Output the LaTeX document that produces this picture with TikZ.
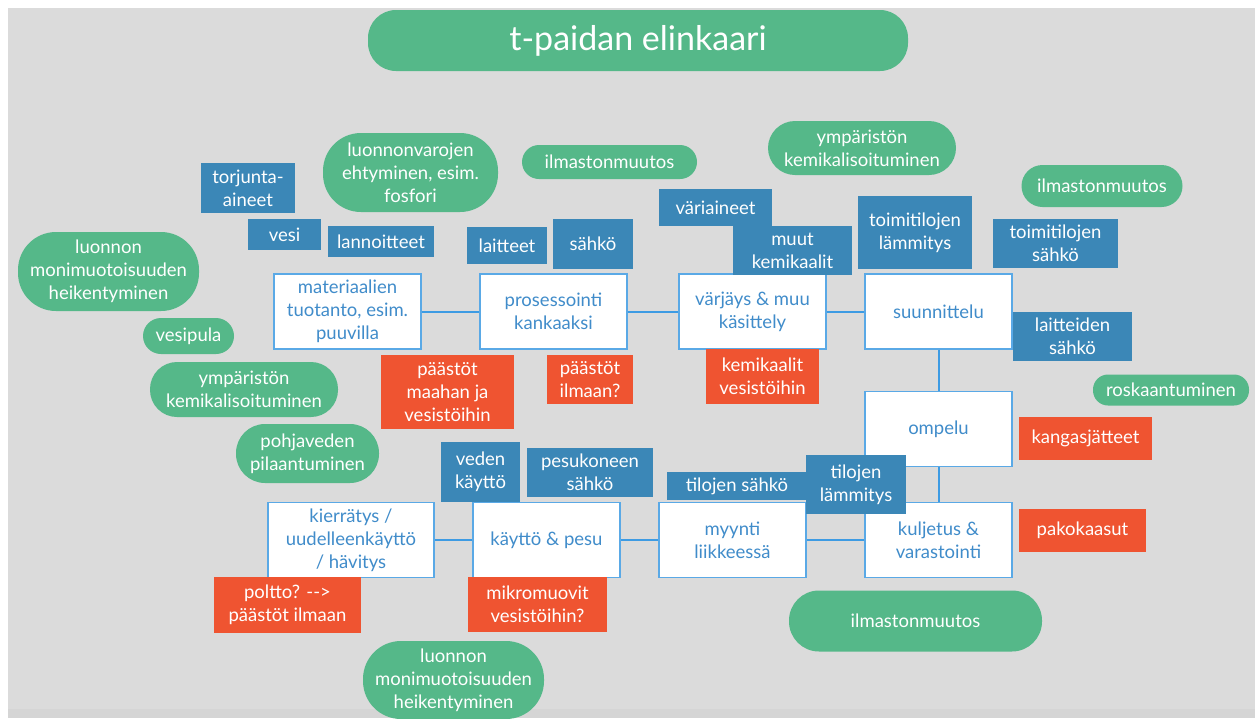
\documentclass[tikz,border=0pt]{standalone}
\usepackage{fontspec}
\setmainfont{Lato}
\definecolor{bg}{HTML}{DBDBDB}
\definecolor{bgstrip}{HTML}{D5D5D5}
\definecolor{grn}{HTML}{55B889}
\definecolor{blu}{HTML}{3B87B7}
\definecolor{redc}{HTML}{EF5431}
\definecolor{procb}{HTML}{5AA9E6}
\definecolor{proct}{HTML}{408CCA}
\definecolor{conn}{HTML}{3D9BE3}
\begin{document}
\begin{tikzpicture}[x=1pt,y=-1pt,
  base/.style={inner sep=0pt, align=center, font=\fontsize{18.5}{23}\selectfont, text=white},
  pill/.style={base, fill=grn},
  bluebox/.style={base, fill=blu},
  redbox/.style={base, fill=redc},
  proc/.style={base, fill=white, draw=procb, line width=1.4pt, text=proct, minimum width=147, minimum height=75},
  link/.style={draw=conn, line width=2pt}]
\useasboundingbox (0,0) rectangle (1255,718);
\fill[white] (0,0) rectangle (1255,718);
\fill[bg] (8,8) rectangle (1255,718);
\fill[bgstrip] (8,709) rectangle (1255,718);

% title
\node[pill, minimum width=540, minimum height=61, rounded corners=28, font=\fontsize{34}{38}\selectfont] (title) at (638,40.5) {t-paidan elinkaari};

% green pills
\node[pill, minimum width=175, minimum height=79, rounded corners=38] (g1) at (410.5,172.5) {luonnonvarojen\\ehtyminen, esim.\\fosfori};
\node[pill, minimum width=175, minimum height=34, rounded corners=17] (g2) at (609.5,162) {ilmastonmuutos};
\node[pill, minimum width=188, minimum height=54, rounded corners=27] (g3) at (862,148) {ympäristön\\kemikalisoituminen};
\node[pill, minimum width=161, minimum height=42, rounded corners=21] (g4) at (1102,186) {ilmastonmuutos};
\node[pill, minimum width=181, minimum height=79, rounded corners=38] (g5) at (108.5,271.5) {luonnon\\monimuotoisuuden\\heikentyminen};
\node[pill, minimum width=91, minimum height=36, rounded corners=18] (g6) at (188.5,336) {vesipula};
\node[pill, minimum width=188, minimum height=55, rounded corners=27] (g7) at (244,389.5) {ympäristön\\kemikalisoituminen};
\node[pill, minimum width=143, minimum height=59, rounded corners=29] (g8) at (307.5,453.5) {pohjaveden\\pilaantuminen};
\node[pill, minimum width=156, minimum height=31, rounded corners=15] (g9) at (1171,390) {roskaantuminen};
\node[pill, minimum width=253, minimum height=61, rounded corners=30] (g10) at (915.5,621) {ilmastonmuutos};
\node[pill, minimum width=181, minimum height=78, rounded corners=38] (g11) at (453.5,680) {luonnon\\monimuotoisuuden\\heikentyminen};

% process boxes
\node[proc] (p1) at (347.5,311.5) {materiaalien\\tuotanto, esim.\\puuvilla};
\node[proc] (p2) at (553.5,311.5) {prosessointi\\kankaaksi};
\node[proc] (p3) at (752.5,311.5) {värjäys \& muu\\käsittely};
\node[proc] (p4) at (938.5,311.5) {suunnittelu};
\node[proc] (p5) at (938.5,429) {ompelu};
\node[proc] (p6) at (938.5,540) {kuljetus \&\\varastointi};
\node[proc] (p7) at (732.5,540) {myynti\\liikkeessä};
\node[proc] (p8) at (546.5,540) {käyttö \& pesu};
\node[proc, minimum width=166] (p9) at (351,540) {kierrätys /\\uudelleenkäyttö\\/ hävitys};

% connectors
\draw[link] (p1.east) -- (p2.west);
\draw[link] (p2.east) -- (p3.west);
\draw[link] (p3.east) -- (p4.west);
\draw[link] (p4.south) -- (p5.north);
\draw[link] (p5.south) -- (p6.north);
\draw[link] (p6.west) -- (p7.east);
\draw[link] (p7.west) -- (p8.east);
\draw[link] (p8.west) -- (p9.east);

% blue boxes
\node[bluebox, minimum width=94, minimum height=50] (b1) at (248,188) {torjunta-\\aineet};
\node[bluebox, minimum width=73, minimum height=31] (b2) at (284.5,234.5) {vesi};
\node[bluebox, minimum width=106, minimum height=31] (b3) at (381,241.5) {lannoitteet};
\node[bluebox, minimum width=80, minimum height=37] (b4) at (507,245.5) {laitteet};
\node[bluebox, minimum width=80, minimum height=50] (b5) at (593,244) {sähkö};
\node[bluebox, minimum width=113, minimum height=37] (b6) at (715.5,207.5) {väriaineet};
\node[bluebox, minimum width=119, minimum height=49] (b7) at (792.5,250.5) {muut\\kemikaalit};
\node[bluebox, minimum width=114, minimum height=73] (b8) at (915,232.5) {toimitilojen\\lämmitys};
\node[bluebox, minimum width=125, minimum height=49] (b9) at (1055.5,243.5) {toimitilojen\\sähkö};
\node[bluebox, minimum width=119, minimum height=49] (b10) at (1072.5,336.5) {laitteiden\\sähkö};
\node[bluebox, minimum width=79, minimum height=60] (b11) at (480.5,472) {veden\\käyttö};
\node[bluebox, minimum width=126, minimum height=49] (b12) at (590,472.5) {pesukoneen\\sähkö};
\node[bluebox, minimum width=140, minimum height=28] (b13) at (737,486) {tilojen sähkö};
\node[bluebox, minimum width=100, minimum height=59] (b14) at (856,484.5) {tilojen\\lämmitys};

% red boxes
\node[redbox, minimum width=133, minimum height=74] (r1) at (447.5,392) {päästöt\\maahan ja\\vesistöihin};
\node[redbox, minimum width=86, minimum height=49] (r2) at (590,379.5) {päästöt\\ilmaan?};
\node[redbox, minimum width=113, minimum height=55] (r3) at (762.5,376.5) {kemikaalit\\vesistöihin};
\node[redbox, minimum width=133, minimum height=43] (r4) at (1085.5,438.5) {kangasjätteet};
\node[redbox, minimum width=127, minimum height=43] (r5) at (1082.5,530.5) {pakokaasut};
\node[redbox, minimum width=147, minimum height=56] (r6) at (287.5,605) {poltto? -\kern0pt->\\päästöt ilmaan};
\node[redbox, minimum width=139, minimum height=55] (r7) at (537.5,604.5) {mikromuovit\\vesistöihin?};
\end{tikzpicture}
\end{document}
